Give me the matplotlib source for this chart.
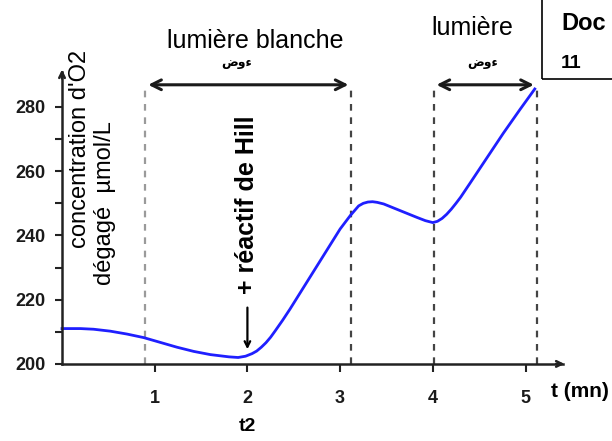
import numpy as np
import matplotlib
matplotlib.use("Agg")
import matplotlib.pyplot as plt
from matplotlib.patches import Rectangle

plt.rcParams['font.family'] = ['Liberation Sans', 'DejaVu Sans']

# values (t in mn, O2 in umol/L)
t = [0.0, 0.2, 0.34, 0.52, 0.7, 0.88, 1.06, 1.24, 1.42, 1.6, 1.8, 1.9, 1.98,
     2.05, 2.1, 2.15, 2.2, 2.25, 2.3, 2.38, 2.46, 2.64, 2.82, 3.0, 3.11, 3.2,
     3.25, 3.3, 3.35, 3.4, 3.47, 3.65, 3.83, 3.92, 4.0, 4.05, 4.1, 4.15, 4.2,
     4.25, 4.3, 4.4, 4.58, 4.76, 4.94, 5.1]
o2 = [211.0, 211.0, 210.8, 210.2, 209.3, 208.2, 206.7, 205.2, 203.9, 202.9, 202.2,
      202.0, 202.4, 203.2, 204.0, 205.2, 206.6, 208.3, 210.3, 213.6, 217.1, 225.4,
      233.7, 242.0, 246.2, 249.2, 250.0, 250.4, 250.5, 250.3, 249.8, 247.7, 245.6,
      244.6, 244.0, 244.4, 245.3, 246.6, 248.2, 250.0, 251.9, 256.2, 264.0, 271.8,
      279.2, 285.6]

x_ticks = [1, 2, 3, 4, 5]
y_ticks = [200, 220, 240, 260, 280]
y_minor = [210, 230, 250, 270]
light_periods = [(0.9, 3.12), (4.01, 5.12)]   # lumière on
hill_time = 2.0

fig = plt.figure(figsize=(6.12, 4.41), dpi=100)
ax = fig.add_axes([0, 0, 1, 1])
ax.set_xlim(-0.669, 5.933)
ax.set_ylim(176.0, 313.3)

# axes through the origin (0, 200)
for s in ['top', 'right']:
    ax.spines[s].set_visible(False)
ax.spines['left'].set_position(('data', 0))
ax.spines['bottom'].set_position(('data', 200))
ax.spines['left'].set_bounds(200, 291)
ax.spines['bottom'].set_bounds(0, 5.4)
for s in ['left', 'bottom']:
    ax.spines[s].set_linewidth(1.8)
    ax.spines[s].set_color('#222222')
ax.annotate('', xy=(0, 292.5), xytext=(0, 288), arrowprops=dict(arrowstyle='->', lw=1.8, color='#222222'))
ax.annotate('', xy=(5.45, 200), xytext=(5.3, 200), arrowprops=dict(arrowstyle='->', lw=1.8, color='#222222'))

ax.set_xticks(x_ticks)
ax.set_xticklabels([str(v) for v in x_ticks])
ax.set_yticks(y_ticks)
ax.set_yticks(y_minor, minor=True)
ax.tick_params(axis='x', direction='out', length=6, width=1.5, pad=13, labelsize=13, color='#222222')
ax.tick_params(axis='y', which='major', direction='out', length=5, width=1.5, pad=7, labelsize=13, color='#222222')
ax.tick_params(axis='y', which='minor', direction='out', length=5, width=1.5, color='#222222')
for lab in ax.get_xticklabels() + ax.get_yticklabels():
    lab.set_fontweight('bold')
    lab.set_color('#1a1a1a')

# dashed limits of the light periods and double arrows
top = 286.9
dash_cols = ['#9a9a9a', '#444444', '#444444', '#444444']
k = 0
for a, b in light_periods:
    for xv in (a, b):
        ax.plot([xv, xv], [200, top], ls=(0, (3, 3)), color=dash_cols[k], lw=1.6)
        k += 1
    ax.annotate('', xy=(a, top), xytext=(b, top),
                arrowprops=dict(arrowstyle='<->,head_length=0.7,head_width=0.35', lw=2.2, color='#1a1a1a'))

# the curve
ax.plot(t, o2, color='#1f1fff', lw=2)

# hill reagent
ax.annotate('', xy=(hill_time, 203.7), xytext=(hill_time, 218.4), arrowprops=dict(arrowstyle='->', lw=1.6, color='black'))
ax.text(hill_time, 249.5, '+ réactif de Hill', rotation=90, ha='center', va='center',
        fontsize=18, fontweight='bold')

# texts
ax.text(2.08, 300.6, 'lumière blanche', ha='center', va='center', fontsize=18)
ax.text(1.88, 293.6, 'ضوء', ha='center', va='center', fontsize=9, fontweight='bold')
ax.text(4.43, 304.5, 'lumière', ha='center', va='center', fontsize=18)
ax.text(4.54, 293.6, 'ضوء', ha='center', va='center', fontsize=9, fontweight='bold')
ax.text(0.19, 267.0, "concentration d'O2", rotation=90, ha='center', va='center', fontsize=17)
ax.text(0.46, 250.0, 'dégagé  µmol/L', rotation=90, ha='center', va='center', fontsize=17)
ax.text(5.27, 191.3, 't (mn)', ha='left', va='center', fontsize=15, fontweight='bold')
ax.text(hill_time, 180.4, 't2', ha='center', va='center', fontsize=14, fontweight='bold')

# Doc 11 box
fig.patches.append(Rectangle((542 / 612, 1 - 79 / 441), 0.2, 0.3, transform=fig.transFigure,
                             fill=False, ec='black', lw=1.2))
fig.text(561 / 612, 1 - 24 / 441, 'Doc', ha='left', va='center', fontsize=17, fontweight='bold')
fig.text(561 / 612, 1 - 63 / 441, '11', ha='left', va='center', fontsize=14, fontweight='bold')

fig.savefig('out.png', dpi=100)
